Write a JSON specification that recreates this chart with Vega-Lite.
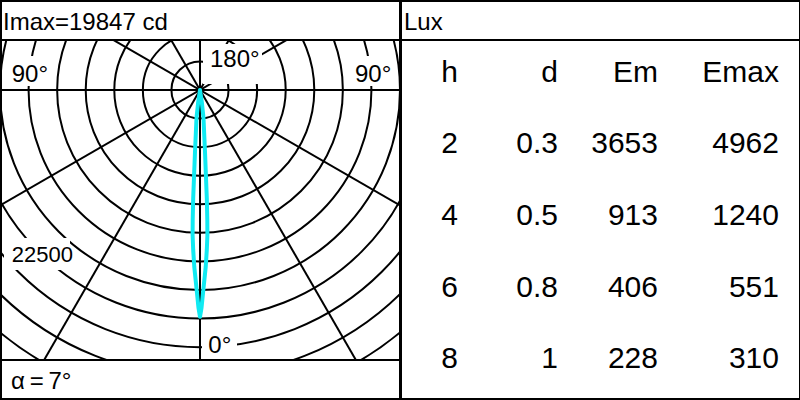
{
  "$schema": "https://vega.github.io/schema/vega-lite/v6.json",
  "padding": 0,
  "background": "white",
  "spacing": -2,
  "config": {
    "view": {"stroke": "black", "strokeWidth": 2},
    "axis": {"disable": true},
    "legend": {"disable": true},
    "text": {"font": "Liberation Sans", "color": "black"}
  },
  "datasets": {
    "rings": [{"r": 2500}, {"r": 5000}, {"r": 7500}, {"r": 10000}, {"r": 12500}, {"r": 15000}, {"r": 17500}, {"r": 20000}, {"r": 22500}, {"r": 25000}, {"r": 27500}, {"r": 30000}],
    "spokes": [
      {"x": 0, "y": -40000, "x2": 0, "y2": 40000},
      {"x": -40000, "y": 0, "x2": 40000, "y2": 0},
      {"x": -20000, "y": -34641, "x2": 20000, "y2": 34641},
      {"x": 20000, "y": -34641, "x2": -20000, "y2": 34641},
      {"x": -34641, "y": -20000, "x2": 34641, "y2": 20000},
      {"x": 34641, "y": -20000, "x2": -34641, "y2": 20000}
    ],
    "labelBoxes": [
      {"x": -16800, "x2": -13300, "y": 350, "y2": 2975},
      {"x": 12950, "x2": 16800, "y": 350, "y2": 2975},
      {"x": 262.5, "x2": 5425, "y": 525, "y2": 4025},
      {"x": 175, "x2": 3237.5, "y": -23450, "y2": -21350},
      {"x": -17150, "x2": -11375, "y": -15750, "y2": -12950}
    ],
    "lobe": [
      {"i": 0, "x": 0, "y": 0},
      {"i": 1, "x": 158, "y": -1050},
      {"i": 2, "x": 306, "y": -2450},
      {"i": 3, "x": 438, "y": -5425},
      {"i": 4, "x": 595, "y": -9450},
      {"i": 5, "x": 639, "y": -11375},
      {"i": 6, "x": 648, "y": -12688},
      {"i": 7, "x": 595, "y": -14000},
      {"i": 8, "x": 499, "y": -15488},
      {"i": 9, "x": 263, "y": -17763},
      {"i": 10, "x": 131, "y": -19075},
      {"i": 11, "x": 0, "y": -19847},
      {"i": 12, "x": -131, "y": -19075},
      {"i": 13, "x": -263, "y": -17763},
      {"i": 14, "x": -499, "y": -15488},
      {"i": 15, "x": -595, "y": -14000},
      {"i": 16, "x": -648, "y": -12688},
      {"i": 17, "x": -639, "y": -11375},
      {"i": 18, "x": -595, "y": -9450},
      {"i": 19, "x": -438, "y": -5425},
      {"i": 20, "x": -306, "y": -2450},
      {"i": 21, "x": -158, "y": -1050},
      {"i": 22, "x": 0, "y": 0}
    ],
    "angleLabels": [
      {"t": "90°", "x": -16476, "y": 726},
      {"t": "90°", "x": 13562, "y": 726},
      {"t": "180°", "x": 875, "y": 1986},
      {"t": "0°", "x": 726, "y": -23039}
    ],
    "ringLabels": [
      {"t": "22500", "x": -16476, "y": -15024}
    ],
    "table": [
      {"h": "h", "d": "d", "Em": "Em", "Emax": "Emax"},
      {"h": "2", "d": "0.3", "Em": "3653", "Emax": "4962"},
      {"h": "4", "d": "0.5", "Em": "913", "Emax": "1240"},
      {"h": "6", "d": "0.8", "Em": "406", "Emax": "551"},
      {"h": "8", "d": "1", "Em": "228", "Emax": "310"}
    ]
  },
  "hconcat": [
    {
      "spacing": 0,
      "bounds": "flush",
      "vconcat": [
        {
          "width": 399,
          "height": 39,
          "data": {"values": [{"label": "Imax=19847 cd"}]},
          "mark": {"type": "text", "align": "left", "baseline": "alphabetic", "fontSize": 24, "dx": 2, "dy": 9.5},
          "encoding": {
            "x": {"field": "label", "type": "nominal", "bandPosition": 0, "scale": {"type": "band", "paddingInner": 0, "paddingOuter": 0}, "axis": null},
            "text": {"field": "label"}
          }
        },
        {
          "width": 399,
          "height": 320,
          "layer": [
            {
              "data": {"name": "rings"},
              "mark": {"type": "arc", "theta": 0, "theta2": 6.2832, "fill": "transparent", "stroke": "black", "strokeWidth": 2, "clip": true},
              "encoding": {
                "x": {"datum": 0, "type": "quantitative", "scale": {"domain": [-17412.5, 17500], "nice": false, "zero": false}, "axis": null},
                "y": {"datum": 0, "type": "quantitative", "scale": {"domain": [-23625, 4375], "nice": false, "zero": false}, "axis": null},
                "radius": {"field": "r", "type": "quantitative", "stack": null, "scale": {"type": "linear", "domain": [0, 17500], "range": [0, 200], "zero": true, "nice": false}}
              }
            },
            {
              "data": {"name": "spokes"},
              "mark": {"type": "rule", "color": "black", "strokeWidth": 2, "clip": true},
              "encoding": {
                "x": {"field": "x", "type": "quantitative", "scale": {"domain": [-17412.5, 17500], "nice": false, "zero": false}, "axis": null},
                "y": {"field": "y", "type": "quantitative", "scale": {"domain": [-23625, 4375], "nice": false, "zero": false}, "axis": null},
                "x2": {"field": "x2"},
                "y2": {"field": "y2"}
              }
            },
            {
              "data": {"name": "labelBoxes"},
              "mark": {"type": "rect", "fill": "white", "strokeWidth": 0},
              "encoding": {
                "x": {"field": "x", "type": "quantitative", "scale": {"domain": [-17412.5, 17500], "nice": false, "zero": false}, "axis": null},
                "y": {"field": "y", "type": "quantitative", "scale": {"domain": [-23625, 4375], "nice": false, "zero": false}, "axis": null},
                "x2": {"field": "x2"},
                "y2": {"field": "y2"}
              }
            },
            {
              "data": {"name": "lobe"},
              "mark": {"type": "line", "color": "#10EAF2", "strokeWidth": 4, "strokeJoin": "round", "strokeCap": "round"},
              "encoding": {
                "x": {"field": "x", "type": "quantitative", "scale": {"domain": [-17412.5, 17500], "nice": false, "zero": false}, "axis": null},
                "y": {"field": "y", "type": "quantitative", "scale": {"domain": [-23625, 4375], "nice": false, "zero": false}, "axis": null},
                "order": {"field": "i", "type": "quantitative"}
              }
            },
            {
              "data": {"name": "angleLabels"},
              "mark": {"type": "text", "align": "left", "baseline": "alphabetic", "fontSize": 24},
              "encoding": {
                "x": {"field": "x", "type": "quantitative", "scale": {"domain": [-17412.5, 17500], "nice": false, "zero": false}, "axis": null},
                "y": {"field": "y", "type": "quantitative", "scale": {"domain": [-23625, 4375], "nice": false, "zero": false}, "axis": null},
                "text": {"field": "t"}
              }
            },
            {
              "data": {"name": "ringLabels"},
              "mark": {"type": "text", "align": "left", "baseline": "alphabetic", "fontSize": 22},
              "encoding": {
                "x": {"field": "x", "type": "quantitative", "scale": {"domain": [-17412.5, 17500], "nice": false, "zero": false}, "axis": null},
                "y": {"field": "y", "type": "quantitative", "scale": {"domain": [-23625, 4375], "nice": false, "zero": false}, "axis": null},
                "text": {"field": "t"}
              }
            }
          ]
        },
        {
          "width": 399,
          "height": 39,
          "data": {"values": [{"label": "α\u2009=\u20097°"}]},
          "mark": {"type": "text", "align": "left", "baseline": "alphabetic", "fontSize": 24, "dx": 10, "dy": 9},
          "encoding": {
            "x": {"field": "label", "type": "nominal", "bandPosition": 0, "scale": {"type": "band", "paddingInner": 0, "paddingOuter": 0}, "axis": null},
            "text": {"field": "label"}
          }
        }
      ]
    },
    {
      "spacing": 0,
      "bounds": "flush",
      "vconcat": [
        {
          "width": 399,
          "height": 39,
          "data": {"values": [{"label": "Lux"}]},
          "mark": {"type": "text", "align": "left", "baseline": "alphabetic", "fontSize": 24, "dx": 3, "dy": 9.5},
          "encoding": {
            "x": {"field": "label", "type": "nominal", "bandPosition": 0, "scale": {"type": "band", "paddingInner": 0, "paddingOuter": 0}, "axis": null},
            "text": {"field": "label"}
          }
        },
        {
          "width": 399,
          "height": 359,
          "data": {"name": "table"},
          "transform": [{"fold": ["h", "d", "Em", "Emax"], "as": ["col", "val"]}],
          "layer": [
            {
              "transform": [{"filter": "datum.col !== 'Emax'"}],
              "mark": {"type": "text", "align": "right", "baseline": "alphabetic", "fontSize": 30},
              "encoding": {
                "x": {"field": "col", "type": "nominal", "scale": {"type": "point", "domain": ["h", "d", "Em", "Emax"], "range": [57, 357], "padding": 0}, "axis": null},
                "y": {"field": "h", "type": "nominal", "scale": {"type": "point", "domain": ["h", "2", "4", "6", "8"], "range": [41.7, 328.3], "padding": 0}, "axis": null},
                "text": {"field": "val"}
              }
            },
            {
              "transform": [{"filter": "datum.col === 'Emax'"}],
              "mark": {"type": "text", "align": "right", "baseline": "alphabetic", "fontSize": 30, "dx": 21},
              "encoding": {
                "x": {"field": "col", "type": "nominal", "scale": {"type": "point", "domain": ["h", "d", "Em", "Emax"], "range": [57, 357], "padding": 0}, "axis": null},
                "y": {"field": "h", "type": "nominal", "scale": {"type": "point", "domain": ["h", "2", "4", "6", "8"], "range": [41.7, 328.3], "padding": 0}, "axis": null},
                "text": {"field": "val"}
              }
            }
          ]
        }
      ]
    }
  ]
}
